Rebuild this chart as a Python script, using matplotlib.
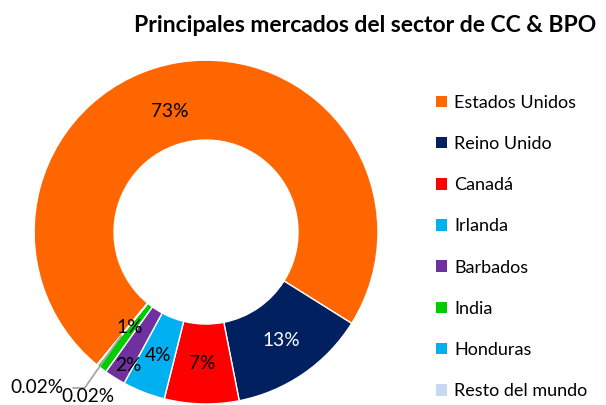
import matplotlib
matplotlib.use("Agg")
import matplotlib.pyplot as plt
import numpy as np
from matplotlib.patches import Patch

categories = ["Estados Unidos", "Reino Unido", "Canadá", "Irlanda", "Barbados",
              "India", "Honduras", "Resto del mundo"]
values = [73, 13, 7, 4, 2, 1, 0.02, 0.02]
labels = ["73%", "13%", "7%", "4%", "2%", "1%", "0.02%", "0.02%"]
colors = ["#FF6600", "#002060", "#FF0000", "#00B0F0", "#7030A0",
          "#00CC00", "#00B0F0", "#C6D9F1"]
label_colors = ["black", "white", "black", "black", "black", "black", "black", "black"]
title = "Principales mercados del sector de CC & BPO"

plt.rcParams['font.family'] = ['Lato', 'DejaVu Sans']

fig = plt.figure(figsize=(6.06, 4.05), dpi=100)
ax = fig.add_axes([0.056, 0.0025, 0.568, 0.849])

ring_w = 0.465
wedges, _ = ax.pie(values, colors=colors, startangle=230.6, counterclock=False,
                   radius=1, wedgeprops=dict(width=ring_w, edgecolor='white', linewidth=1))
ax.set_xlim(-1, 1)
ax.set_ylim(-1, 1)
ax.set_aspect('equal')
ax.axis('off')

lab_fs = 13.8
mid_r = 1 - ring_w / 2
# (angle offset in degrees, radius) tweaks for label placement
tweaks = {0: (7.5, 0.73), 4: (2.0, 0.90), 5: (-1.0, 0.71)}
for i, (w, lab) in enumerate(zip(wedges, labels[:6])):
    mid = (w.theta1 + w.theta2) / 2
    d, r = tweaks.get(i, (0.0, mid_r))
    ang = np.deg2rad(mid + d)
    ax.text(r * np.cos(ang), r * np.sin(ang), lab, ha='center', va='center',
            fontsize=lab_fs, color=label_colors[i])

# tiny slices with leader line
w = wedges[6]
ang = np.deg2rad((w.theta1 + w.theta2) / 2)
sx, sy = 0.78 * np.cos(ang), 0.78 * np.sin(ang)
ax.annotate(labels[6], xy=(sx, sy), xytext=(-0.83, -0.907),
            ha='right', va='center', fontsize=lab_fs, annotation_clip=False,
            color=label_colors[6],
            arrowprops=dict(arrowstyle='-', color='#A6A6A6', lw=1.3,
                            connectionstyle='angle,angleA=0,angleB=55,rad=0',
                            relpos=(1, 0.5), shrinkA=5, shrinkB=0))
ax.text(-0.686, -0.955, labels[7], ha='center', va='center', fontsize=lab_fs,
        color=label_colors[7], clip_on=False)

fig.text(0.603, 0.938, title, fontsize=16.5, fontweight='bold', ha='center', va='center')

handles = [Patch(facecolor=c, edgecolor='none') for c in colors]
fig.legend(handles, categories, loc='upper left', bbox_to_anchor=(0.7195, 0.766),
           frameon=False, fontsize=13, handlelength=0.62, handleheight=0.62,
           handletextpad=0.38, labelspacing=1.395, borderaxespad=0, borderpad=0)

fig.savefig("out.png", dpi=100)
